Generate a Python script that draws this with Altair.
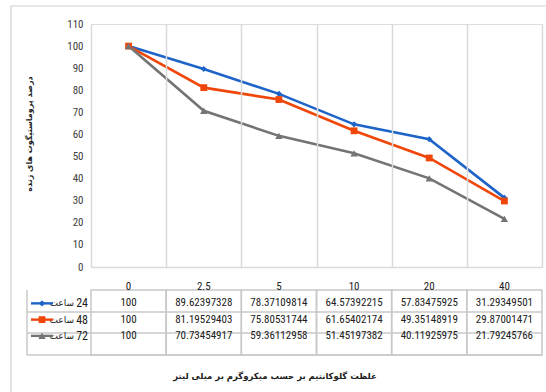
import altair as alt
import pandas as pd

# Concentrations (µg/mL) and viability (%) per incubation time
concentrations = ["0", "2.5", "5", "10", "20", "40"]
hours = ["24", "48", "72"]
viability_24h = [100, 89.62397328, 78.37109814, 64.57392215, 57.83475925, 31.29349501]
viability_48h = [100, 81.19529403, 75.80531744, 61.65402174, 49.35148919, 29.87001471]
viability_72h = [100, 70.73454917, 59.36112958, 51.45197382, 40.11925975, 21.79245766]
y_ticks = list(range(0, 111, 10))

series_colors = ["#1E64C8", "#F0460A", "#747474"]
series_shapes = ["diamond", "square", "triangle-up"]
series_sizes = [38, 55, 60]

rows = []
for h, vals in zip(hours, [viability_24h, viability_48h, viability_72h]):
    for c, v in zip(concentrations, vals):
        rows.append({"hour": h, "conc": c, "value": v})
df = pd.DataFrame(rows)

header = pd.DataFrame({"conc": concentrations, "row": ["h"] * len(concentrations)})
legend_rows = pd.DataFrame({"hour": hours, "row": hours, "word": ["ساعت"] * 3})
table_vals = df.assign(row=df["hour"])

W, H = 451, 243
FONT_NUM = "Liberation Sans Narrow, Arial Narrow, Roboto Condensed, Roboto, sans-serif"
FONT_FA = "DejaVu Sans, sans-serif"
GRID = "#D9D9D9"
TABLE_LINE = "#C8C8C8"

x_scale = alt.Scale(domain=concentrations, paddingInner=0, paddingOuter=0)
color_scale = alt.Scale(domain=hours, range=series_colors)
shape_scale = alt.Scale(domain=hours, range=series_shapes)
size_scale = alt.Scale(domain=hours, range=series_sizes)
y_scale = alt.Scale(domain=[0, 110], nice=False, zero=True)
row_scale = alt.Scale(domain=["h"] + hours, range=[255, 320], padding=0)

x_axis = alt.Axis(labels=False, ticks=False, title=None, domain=True,
                  domainColor=GRID, domainWidth=1.5,
                  grid=True, gridColor=GRID, gridWidth=1.5, tickBand="extent")
y_axis = alt.Axis(values=y_ticks, grid=False, domain=False, ticks=False,
                  title=None, labelFont=FONT_NUM, labelFontSize=11,
                  labelColor="#404040", labelPadding=8,
                  labelOverlap=False, labelBound=False)

base = alt.Chart(df)

lines = base.mark_line(strokeWidth=2.6).encode(
    x=alt.X("conc:N", scale=x_scale, sort=concentrations, axis=x_axis),
    y=alt.Y("value:Q", scale=y_scale, axis=y_axis),
    color=alt.Color("hour:N", scale=color_scale, legend=None),
)

points = base.mark_point(filled=True, opacity=1).encode(
    x=alt.X("conc:N", scale=x_scale, sort=concentrations, axis=x_axis),
    y=alt.Y("value:Q", scale=y_scale, axis=y_axis),
    color=alt.Color("hour:N", scale=color_scale, legend=None),
    shape=alt.Shape("hour:N", scale=shape_scale, legend=None),
    size=alt.Size("hour:N", scale=size_scale, legend=None),
)

# table cells: one outlined band per concentration
cells = alt.Chart(pd.DataFrame({"conc": concentrations})).mark_rect(
    fill=None, stroke=TABLE_LINE, strokeWidth=1.5).encode(
    x=alt.X("conc:N", scale=x_scale, sort=concentrations, axis=x_axis),
    y=alt.value(266), y2=alt.value(331),
)

# horizontal table borders
hlines = alt.Chart(pd.DataFrame({"yy": [288, 309, 331]})).mark_rule(
    color=TABLE_LINE, strokeWidth=1.5).encode(
    y=alt.Y("yy:Q", scale=None), x=alt.value(-64), x2=alt.value(W),
)
left_col = alt.Chart(pd.DataFrame({"k": [0]})).mark_rule(
    color=TABLE_LINE, strokeWidth=1.5).encode(
    x=alt.value(-64), y=alt.value(266), y2=alt.value(331),
)

# outer frame
frame = alt.Chart(pd.DataFrame({"k": [0]})).mark_rect(
    fill=None, stroke="#D0D0D0", strokeWidth=1.2).encode(
    x=alt.value(-80), x2=alt.value(470), y=alt.value(-18), y2=alt.value(420),
)

header_text = alt.Chart(header).mark_text(
    font=FONT_NUM, fontSize=11, color="#202020").encode(
    x=alt.X("conc:N", scale=x_scale, sort=concentrations, axis=x_axis),
    y=alt.Y("row:N", scale=row_scale, axis=None),
    text="conc:N",
)
value_text = alt.Chart(table_vals).mark_text(
    font=FONT_NUM, fontSize=11, color="#202020").encode(
    x=alt.X("conc:N", scale=x_scale, sort=concentrations, axis=x_axis),
    y=alt.Y("row:N", scale=row_scale, axis=None),
    text=alt.Text("value:Q", format=".10~g"),
)
hour_text = alt.Chart(legend_rows).mark_text(
    font=FONT_NUM, fontSize=12, color="#202020", align="right").encode(
    x=alt.value(-3),
    y=alt.Y("row:N", scale=row_scale, axis=None),
    text="hour:N",
)
word_text = alt.Chart(legend_rows).mark_text(
    font=FONT_FA, fontSize=9, color="#202020", align="right").encode(
    x=alt.value(-17),
    y=alt.Y("row:N", scale=row_scale, axis=None),
    text="word:N",
)
legend_lines = alt.Chart(legend_rows).mark_rule(strokeWidth=2.4).encode(
    x=alt.value(-60), x2=alt.value(-38),
    y=alt.Y("row:N", scale=row_scale, axis=None),
    color=alt.Color("hour:N", scale=color_scale, legend=None),
)
legend_marks = alt.Chart(legend_rows).mark_point(filled=True, opacity=1).encode(
    x=alt.value(-49),
    y=alt.Y("row:N", scale=row_scale, axis=None),
    color=alt.Color("hour:N", scale=color_scale, legend=None),
    shape=alt.Shape("hour:N", scale=shape_scale, legend=None),
    size=alt.Size("hour:N", scale=size_scale, legend=None),
)

y_title = alt.Chart(pd.DataFrame({"t": ["درصد پروماستیگوت های زنده"]})).mark_text(
    font=FONT_FA, fontSize=8, fontWeight="bold", angle=270, color="#202020").encode(
    x=alt.value(-61), y=alt.value(110), text="t:N",
)
x_title = alt.Chart(pd.DataFrame({"t": ["غلظت گلوکانتیم بر حسب میکروگرم بر میلی لیتر"]})).mark_text(
    font=FONT_FA, fontSize=8.5, fontWeight="bold", color="#202020").encode(
    x=alt.value(184), y=alt.value(352), text="t:N",
)

plot_layer = alt.layer(frame, cells, hlines, left_col, lines, points)
table_layer = alt.layer(header_text, value_text, hour_text, word_text,
                        legend_lines, legend_marks)

chart = alt.layer(plot_layer, table_layer, y_title, x_title).resolve_scale(
    y="independent"
).properties(
    width=W, height=H,
    autosize=alt.AutoSizeParams(type="none"),
    padding={"left": 91, "top": 24, "right": 4, "bottom": 125},
).configure_view(stroke=None).configure(background="white")

chart.save("out.html", embed_options={"renderer": "svg", "actions": False})
